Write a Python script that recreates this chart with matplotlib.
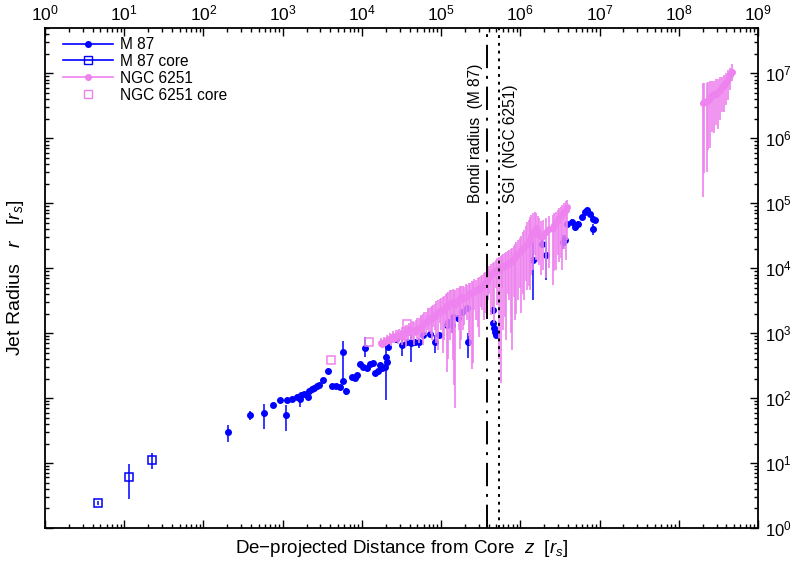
import numpy as np
import matplotlib
matplotlib.use('Agg')
import matplotlib.pyplot as plt
from matplotlib.lines import Line2D
from matplotlib.ticker import FixedLocator, LogFormatterSciNotation, NullFormatter

plt.rcParams['font.family'] = ['Liberation Sans', 'DejaVu Sans']
plt.rcParams['mathtext.fontset'] = 'custom'
plt.rcParams['mathtext.rm'] = 'Liberation Sans'
plt.rcParams['mathtext.it'] = 'Liberation Sans:italic'

BLUE = '#0000ff'
VIOLET = '#ee82ee'

# M 87 jet: distance z, radius r, lower / upper bound of r (all in r_s)
m87_z = [205, 387, 577, 757, 927, 1127, 1104, 1315, 1507, 1644, 1700, 1862, 2075, 2155, 2330,
         2490, 2700, 2880, 3236, 3710, 4200, 4720, 5300, 5740, 5800, 6320, 7450, 8200, 8700, 9490,
         10360, 11530, 12700, 13740, 10970, 14680, 16030, 17830, 16980, 19630, 20620, 21620, 20030,
         26800, 31900, 36900, 41800, 47000, 52700, 59800, 72600, 84000, 95200, 119000, 123700,
         136500, 143000, 164000, 184000, 211000, 221000, 450000, 457000, 467000, 481000, 495000,
         1.46e6, 1.87e6, 2.1e6, 3.5e6, 3.68e6, 3.87e6, 4.47e6, 4.92e6, 5.42e6, 5.98e6, 6.58e6,
         7.03e6, 7.6e6, 8.22e6, 8.38e6, 8.8e6]
m87_r = [30, 55, 59, 78, 93, 94, 55, 97, 104, 97, 111, 115, 105, 130, 138,
         143, 153, 160, 189, 263, 155, 155, 149, 510, 185, 127, 213, 203, 226, 333,
         303, 290, 333, 349, 582, 245, 263, 286, 322, 303, 362, 615, 430,
         800, 654, 719, 694, 735, 719, 931, 966, 735, 931, 1330, 1493,
         1327, 1782, 1700, 2100, 2400, 735, 2260, 1410, 1181, 1047, 931,
         13300, 24000, 15850, 25400, 27000, 48700, 51500, 43200, 48700, 61500, 73500,
         78000, 69500, 40800, 58200, 54700]
m87_rlo = [21, 46, 33, 74, 89, 90, 31, 93, 100, 73, 106, 110, 100, 124, 132,
           137, 146, 153, 180, 250, 145, 145, 140, 170, 175, 110, 200, 190, 212, 315,
           285, 272, 315, 330, 432, 230, 247, 270, 303, 285, 340, 580, 93,
           740, 450, 660, 358, 680, 600, 860, 890, 500, 860, 1200, 1380,
           1000, 1650, 1500, 1900, 2200, 420, 2000, 1250, 1050, 930, 800,
           3220, 21000, 6530, 20000, 22000, 44000, 46000, 38000, 44000, 56000, 67000,
           71000, 63000, 33000, 52000, 49000]
m87_rhi = [38, 63, 81, 83, 97, 98, 78, 101, 108, 104, 116, 120, 110, 136, 144,
           149, 160, 167, 198, 276, 165, 165, 158, 762, 195, 145, 226, 216, 240, 350,
           320, 308, 350, 368, 877, 260, 280, 302, 341, 321, 384, 650, 800,
           860, 900, 780, 931, 790, 840, 1000, 1040, 930, 1000, 1450, 1610,
           1600, 1920, 1900, 2300, 2600, 1000, 2500, 1600, 1330, 1180, 1050,
           25400, 27000, 25400, 32000, 33000, 54000, 57000, 49000, 54000, 67000, 80000,
           85000, 76000, 48000, 65000, 61000]

# M 87 core
m87c_z = [4.6, 11.5, 22.5]
m87c_r = [2.45, 6.1, 11.1]
m87c_rlo = [2.3, 2.8, 8.1]
m87c_rhi = [2.6, 9.7, 14.2]

# NGC 6251 jet, read in dex: log10 z, log10 r, log10 of lower / upper bound of r
# (first block and second block are two passes of readings along the dense band,
#  last block is the outer jet near 1e8 - 1e9)
ngc_logz = [4.24, 4.28, 4.32, 4.36, 4.39, 4.43, 4.47, 4.51, 4.55, 4.58, 4.62, 4.66, 4.70, 4.74, 4.77,
            4.81, 4.85, 4.89, 4.92, 4.96, 5.00, 5.04, 5.08, 5.11, 5.15, 5.18, 5.22, 5.25, 5.29, 5.33,
            5.37, 5.40, 5.44, 5.48, 5.52, 5.56, 5.59, 5.63, 5.67, 5.71, 5.75, 5.78, 5.82, 5.86, 5.90,
            5.93, 5.97, 6.01, 6.05, 6.09, 6.12, 6.16, 6.20, 6.24, 6.28, 6.41, 6.45, 6.49, 6.53, 6.57,
            6.59,
            4.26, 4.30, 4.34, 4.37, 4.41, 4.45, 4.49, 4.53, 4.56, 4.60, 4.64, 4.68, 4.72, 4.75, 4.79,
            4.83, 4.87, 4.90, 4.94, 4.98, 5.02, 5.06, 5.09, 5.13, 5.165, 5.20, 5.235, 5.27, 5.31, 5.35,
            5.385, 5.42, 5.46, 5.50, 5.54, 5.575, 5.61, 5.65, 5.69, 5.73, 5.765, 5.80, 5.84, 5.88, 5.915,
            5.95, 5.99, 6.03, 6.07, 6.105, 6.14, 6.18, 6.22, 6.26, 6.32, 6.36, 6.43, 6.47, 6.51, 6.55,
            8.30, 8.32, 8.35, 8.37, 8.40, 8.42, 8.45, 8.47, 8.50, 8.52, 8.55, 8.57, 8.60, 8.62, 8.65,
            8.67]
ngc_logr = [2.85, 2.86, 2.89, 2.91, 2.94, 2.95, 2.97, 2.98, 3.00, 3.02, 3.05, 3.03, 3.06, 3.09, 3.12,
            3.17, 3.23, 3.23, 3.26, 3.32, 3.35, 3.35, 3.42, 3.46, 3.48, 3.45, 3.51, 3.55, 3.54, 3.57,
            3.62, 3.63, 3.66, 3.69, 3.72, 3.77, 3.85, 3.91, 3.94, 3.97, 4.00, 4.03, 4.05, 4.09, 4.12,
            4.17, 4.22, 4.28, 4.32, 4.37, 4.43, 4.55, 4.62, 4.51, 4.49, 4.62, 4.71, 4.77, 4.83, 4.89,
            4.94,
            2.84, 2.88, 2.90, 2.92, 2.93, 2.97, 2.96, 3.00, 3.01, 3.03, 3.05, 3.04, 3.08, 3.10, 3.15,
            3.19, 3.22, 3.25, 3.30, 3.33, 3.36, 3.40, 3.45, 3.47, 3.44, 3.49, 3.53, 3.55, 3.55, 3.60,
            3.62, 3.65, 3.67, 3.70, 3.74, 3.81, 3.88, 3.92, 3.96, 3.99, 4.02, 4.04, 4.07, 4.10, 4.15,
            4.20, 4.25, 4.30, 4.35, 4.40, 4.49, 4.58, 4.56, 4.50, 4.55, 4.60, 4.66, 4.74, 4.80, 4.86,
            6.55, 6.56, 6.57, 6.59, 6.62, 6.66, 6.68, 6.69, 6.71, 6.74, 6.79, 6.82, 6.86, 6.92, 6.97,
            7.02]
ngc_logr_hi = [2.92, 2.94, 2.97, 3.00, 3.03, 3.05, 3.06, 3.09, 3.11, 3.12, 3.17, 3.17, 3.23, 3.26, 3.29,
               3.32, 3.39, 3.42, 3.45, 3.51, 3.54, 3.57, 3.62, 3.66, 3.68, 3.66, 3.69, 3.72, 3.71, 3.74,
               3.77, 3.79, 3.82, 3.86, 3.89, 3.94, 4.00, 4.06, 4.09, 4.15, 4.19, 4.22, 4.25, 4.28, 4.31,
               4.37, 4.43, 4.49, 4.59, 4.71, 4.79, 4.85, 4.85, 4.77, 4.74, 4.82, 4.86, 4.92, 4.97, 5.03,
               5.05,
               2.90, 2.93, 2.96, 2.99, 3.01, 3.05, 3.05, 3.10, 3.12, 3.15, 3.18, 3.20, 3.24, 3.28, 3.33,
               3.38, 3.41, 3.44, 3.50, 3.53, 3.56, 3.60, 3.64, 3.67, 3.67, 3.70, 3.73, 3.72, 3.75, 3.78,
               3.80, 3.83, 3.85, 3.88, 3.92, 3.98, 4.04, 4.08, 4.12, 4.17, 4.20, 4.23, 4.26, 4.30, 4.34,
               4.40, 4.46, 4.55, 4.65, 4.75, 4.82, 4.86, 4.80, 4.72, 4.78, 4.80, 4.85, 4.90, 4.95, 5.00,
               6.85, 6.85, 6.85, 6.86, 6.88, 6.89, 6.89, 6.91, 6.92, 6.94, 6.95, 6.97, 7.00, 7.05, 7.09,
               7.14]
ngc_logr_lo = [2.79, 2.79, 2.82, 2.83, 2.85, 2.86, 2.86, 2.82, 2.86, 2.88, 2.89, 2.82, 2.89, 2.92, 2.82,
               2.97, 3.02, 2.89, 3.05, 2.74, 3.05, 2.89, 2.40, 2.89, 2.58, 1.85, 3.05, 2.89, 3.12, 3.20,
               2.82, 2.54, 3.20, 2.94, 3.35, 3.31, 3.51, 3.28, 3.15, 3.43, 2.23, 3.05, 2.89, 3.51, 2.74,
               3.20, 3.51, 3.31, 3.51, 3.66, 3.66, 3.97, 4.12, 4.05, 3.97, 3.74, 3.97, 4.09, 3.97, 4.12,
               4.43,
               2.80, 2.81, 2.84, 2.80, 2.87, 2.84, 2.90, 2.88, 2.78, 2.95, 2.90, 2.96, 2.85, 3.00, 2.95,
               3.05, 2.98, 3.10, 2.85, 3.15, 2.70, 3.10, 2.60, 3.00, 2.20, 3.25, 2.75, 3.05, 3.30, 2.95,
               2.45, 3.35, 3.10, 3.40, 3.20, 3.45, 3.60, 3.40, 3.70, 2.60, 3.70, 3.25, 3.60, 3.00, 3.55,
               3.30, 3.70, 3.60, 3.80, 3.72, 3.90, 4.20, 4.10, 3.90, 3.85, 4.00, 3.95, 4.20, 4.15, 4.30,
               5.09, 5.46, 5.48, 5.82, 5.85, 6.09, 6.08, 6.20, 6.15, 6.28, 6.40, 6.40, 6.51, 6.59, 6.74,
               6.89]

# NGC 6251 core
ngcc_z = [4050, 12200, 37500]
ngcc_r = [380, 719, 1375]

# characteristic scales
bondi_m87 = 3.8e5
sgi_ngc6251 = 5.3e5

fig = plt.figure(figsize=(7.91, 5.64), dpi=100)
ax = fig.add_axes([0.0569, 0.0638, 0.9014, 0.8866])
ax.set_xscale('log')
ax.set_yscale('log')

def bounds_err(r, lo, hi):
    r = np.asarray(r, float)
    return [r - np.asarray(lo, float), np.asarray(hi, float) - r]

ax.errorbar(m87_z, m87_r, yerr=bounds_err(m87_r, m87_rlo, m87_rhi), fmt='o', ms=4,
            color=BLUE, ecolor=BLUE, elinewidth=1.1, capsize=0, zorder=3)
ax.errorbar(m87c_z, m87c_r, yerr=bounds_err(m87c_r, m87c_rlo, m87c_rhi), fmt='s', ms=6,
            mfc='none', mew=1.1, color=BLUE, ecolor=BLUE, elinewidth=1.1, capsize=0, zorder=3)

nz = 10 ** np.array(ngc_logz)
nr = 10 ** np.array(ngc_logr)
ax.errorbar(nz, nr, yerr=bounds_err(nr, 10 ** np.array(ngc_logr_lo), 10 ** np.array(ngc_logr_hi)),
            fmt='o', ms=4, color=VIOLET, ecolor=VIOLET, elinewidth=1.2, capsize=0, zorder=4)
ax.plot(ngcc_z, ngcc_r, 's', ms=6, mfc='none', mew=1.1, color=VIOLET, zorder=4)

ax.axvline(bondi_m87, color='black', lw=1.4, dashes=(12, 4, 1.5, 4), zorder=5)
ax.axvline(sgi_ngc6251, color='black', lw=1.4, dashes=(1.5, 2.5), zorder=5)
ax.annotate('Bondi radius  (M 87)', xy=(bondi_m87, 1e5), xytext=(-3, 0), textcoords='offset points',
            rotation=90, ha='right', va='bottom', fontsize=11.2)
ax.annotate('SGI  (NGC 6251)', xy=(sgi_ngc6251, 1e5), xytext=(3, 0), textcoords='offset points',
            rotation=90, ha='left', va='bottom', fontsize=11.2)

ax.set_xlim(1, 1e9)
ax.set_ylim(1, 5e7)

# decade ticks inside the shown range only
x_decades = np.arange(0, 10)
y_decades = np.arange(0, 8)
ax.xaxis.set_major_locator(FixedLocator(10.0 ** x_decades))
ax.yaxis.set_major_locator(FixedLocator(10.0 ** y_decades))
ax.xaxis.set_minor_locator(FixedLocator([m * 10.0 ** d for d in x_decades[:-1] for m in range(2, 10)]))
ax.yaxis.set_minor_locator(FixedLocator([m * 10.0 ** d for d in y_decades for m in range(2, 10)
                                         if m * 10.0 ** d <= 5e7]))
for axis in (ax.xaxis, ax.yaxis):
    axis.set_major_formatter(LogFormatterSciNotation())
    axis.set_minor_formatter(NullFormatter())

ax.tick_params(which='both', direction='in', top=True, right=True,
               labelbottom=False, labeltop=True, labelleft=False, labelright=True,
               width=1.0)
ax.tick_params(which='major', length=6)
ax.tick_params(which='minor', length=3)
ax.tick_params(axis='x', pad=3, labelsize=12.5)
ax.tick_params(axis='y', pad=5, labelsize=12)
for sp in ax.spines.values():
    sp.set_linewidth(1.3)

ax.set_xlabel('De\u2212projected Distance from Core  $z$  $[r_s]$', fontsize=13.5, labelpad=7)
ax.set_ylabel('Jet Radius   $r$   $[r_s]$', fontsize=14, labelpad=14)

handles = [
    Line2D([], [], color=BLUE, marker='o', ms=4, lw=1.2),
    Line2D([], [], color=BLUE, marker='s', ms=6, mfc='none', lw=1.2),
    Line2D([], [], color=VIOLET, marker='o', ms=4, lw=1.2),
    Line2D([], [], color=VIOLET, marker='s', ms=6, mfc='none', lw=0),
]
ax.legend(handles, ['M 87', 'M 87 core', 'NGC 6251', 'NGC 6251 core'], loc='upper left',
          bbox_to_anchor=(0.025, 0.982), frameon=False, fontsize=11.2, handlelength=3.2,
          handletextpad=0.5, labelspacing=0.12, borderaxespad=0, borderpad=0)

fig.savefig('out.png', dpi=100)
